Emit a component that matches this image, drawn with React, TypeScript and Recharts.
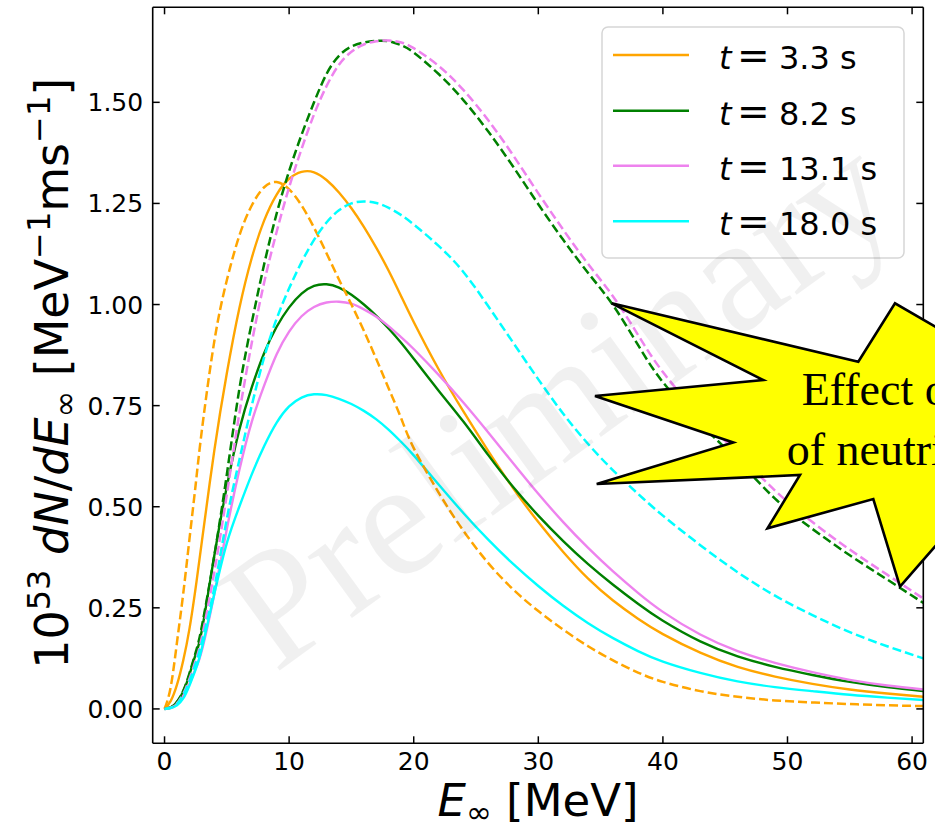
import React from 'react';
import { LineChart, Line, XAxis, YAxis, Legend } from 'recharts';

// Energy grid (MeV)
const energies = [0, 0.5, 1, 1.5, 2, 2.5, 3, 4, 5, 6, 7, 8, 9, 10, 11, 12, 13, 14, 15, 16, 17, 18, 19, 20, 22, 24, 26, 28, 30, 32, 34, 36, 38, 40, 43, 46, 49, 52, 55, 58, 60.9];

// t = 3.3 s
const t33Solid = [0, 0.02, 0.06, 0.12, 0.198, 0.3, 0.415, 0.64, 0.83, 0.99, 1.115, 1.208, 1.272, 1.311, 1.328, 1.327, 1.308, 1.277, 1.238, 1.192, 1.14, 1.083, 1.02, 0.957, 0.84, 0.735, 0.637, 0.545, 0.462, 0.388, 0.322, 0.268, 0.223, 0.185, 0.139, 0.104, 0.08, 0.062, 0.048, 0.038, 0.03];
const t33Dashed = [0, 0.055, 0.165, 0.285, 0.42, 0.555, 0.69, 0.91, 1.06, 1.17, 1.245, 1.29, 1.303, 1.285, 1.245, 1.19, 1.127, 1.062, 1.0, 0.935, 0.865, 0.792, 0.718, 0.645, 0.535, 0.44, 0.36, 0.295, 0.242, 0.196, 0.155, 0.12, 0.09, 0.067, 0.044, 0.03, 0.021, 0.016, 0.012, 0.009, 0.007];
// t = 8.2 s
const t82Solid = [0, 0.004, 0.017, 0.043, 0.085, 0.135, 0.195, 0.38, 0.55, 0.69, 0.795, 0.88, 0.945, 0.993, 1.027, 1.046, 1.05, 1.042, 1.024, 1.0, 0.972, 0.94, 0.905, 0.866, 0.787, 0.71, 0.627, 0.548, 0.478, 0.415, 0.358, 0.307, 0.26, 0.218, 0.167, 0.13, 0.104, 0.084, 0.067, 0.054, 0.044];
const t82Dashed = [0, 0.004, 0.018, 0.045, 0.088, 0.14, 0.205, 0.38, 0.58, 0.79, 0.955, 1.1, 1.225, 1.33, 1.42, 1.5, 1.57, 1.615, 1.638, 1.648, 1.652, 1.651, 1.641, 1.623, 1.57, 1.505, 1.427, 1.34, 1.248, 1.16, 1.078, 0.998, 0.9, 0.808, 0.705, 0.615, 0.52, 0.445, 0.38, 0.32, 0.262];
// t = 13.1 s
const t131Solid = [0, 0.003, 0.012, 0.032, 0.062, 0.1, 0.145, 0.285, 0.445, 0.59, 0.71, 0.8, 0.877, 0.933, 0.971, 0.994, 1.005, 1.007, 1.002, 0.988, 0.97, 0.946, 0.919, 0.89, 0.826, 0.757, 0.683, 0.607, 0.532, 0.462, 0.398, 0.34, 0.287, 0.24, 0.184, 0.143, 0.114, 0.091, 0.072, 0.058, 0.048];
const t131Dashed = [0, 0.003, 0.014, 0.037, 0.074, 0.12, 0.178, 0.34, 0.53, 0.73, 0.905, 1.055, 1.18, 1.29, 1.385, 1.47, 1.54, 1.593, 1.625, 1.643, 1.651, 1.653, 1.648, 1.634, 1.59, 1.53, 1.455, 1.368, 1.275, 1.185, 1.1, 1.02, 0.925, 0.833, 0.725, 0.632, 0.54, 0.462, 0.394, 0.332, 0.273];
// t = 18.0 s
const t180Solid = [0, 0.002, 0.009, 0.026, 0.058, 0.098, 0.15, 0.285, 0.41, 0.5, 0.58, 0.65, 0.708, 0.748, 0.77, 0.778, 0.776, 0.767, 0.754, 0.737, 0.716, 0.69, 0.66, 0.627, 0.555, 0.484, 0.418, 0.358, 0.304, 0.255, 0.212, 0.175, 0.143, 0.117, 0.089, 0.068, 0.054, 0.044, 0.035, 0.028, 0.022];
const t180Dashed = [0, 0.003, 0.012, 0.034, 0.068, 0.112, 0.165, 0.3, 0.47, 0.615, 0.75, 0.87, 0.965, 1.04, 1.105, 1.16, 1.203, 1.233, 1.25, 1.255, 1.251, 1.239, 1.221, 1.198, 1.145, 1.08, 0.995, 0.905, 0.815, 0.73, 0.655, 0.59, 0.532, 0.478, 0.405, 0.338, 0.28, 0.232, 0.19, 0.155, 0.125];

const timeLabels = ['3.3', '8.2', '13.1', '18.0'];
const colors = ['#FFA500', '#008000', '#EE82EE', '#00FFFF'];
const xTicks = [0, 10, 20, 30, 40, 50, 60];
const yTicks = [0, 0.25, 0.5, 0.75, 1.0, 1.25, 1.5];

const solidSeries = [t33Solid, t82Solid, t131Solid, t180Solid];
const dashedSeries = [t33Dashed, t82Dashed, t131Dashed, t180Dashed];

const data = energies.map((E, i) => {
  const row: Record<string, number> = { E };
  solidSeries.forEach((s, k) => { row['s' + k] = s[i]; });
  dashedSeries.forEach((s, k) => { row['d' + k] = s[i]; });
  return row;
});

const FONT = '"DejaVu Sans", sans-serif';
const SERIF = '"Liberation Serif", "DejaVu Serif", serif';
const TICK_LEN = 7;

const XTickBottom = (props: any) => {
  const { x, y, payload } = props;
  return (
    <g>
      <line x1={x} x2={x} y1={y} y2={y - TICK_LEN} stroke="#000" strokeWidth={1.5} />
      <text x={x} y={y + 27} textAnchor="middle" fontSize={25} fontFamily={FONT} fill="#000">{payload.value}</text>
    </g>
  );
};
const XTickTop = (props: any) => {
  const { x, y } = props;
  return <line x1={x} x2={x} y1={y} y2={y + TICK_LEN} stroke="#000" strokeWidth={1.5} />;
};
const YTickLeft = (props: any) => {
  const { x, y, payload } = props;
  return (
    <g>
      <line x1={x} x2={x + TICK_LEN} y1={y} y2={y} stroke="#000" strokeWidth={1.5} />
      <text x={x - 9.5} y={y + 9} textAnchor="end" fontSize={25} fontFamily={FONT} fill="#000">{Number(payload.value).toFixed(2)}</text>
    </g>
  );
};
const YTickRight = (props: any) => {
  const { x, y } = props;
  return <line x1={x - TICK_LEN} x2={x} y1={y} y2={y} stroke="#000" strokeWidth={1.5} />;
};

const YLabel = (props: any) => {
  const vb = props.viewBox || { x: 63, y: 7, width: 90, height: 736 };
  const cx = vb.x - 16;
  const cy = vb.y + vb.height / 2 - 2;
  return (
    <text x={cx} y={cy + 21} transform={`rotate(-90, ${cx}, ${cy})`} textAnchor="middle" fontSize={46} fontFamily={FONT} fill="#000">
      <tspan>10</tspan>
      <tspan fontSize={32} dy={-18}>53</tspan>
      <tspan dy={18}>{' '}</tspan>
      <tspan fontStyle="italic">dN</tspan>
      <tspan>/</tspan>
      <tspan fontStyle="italic">dE</tspan>
      <tspan fontSize={32} dy={8}>∞</tspan>
      <tspan dy={-8}>{'  [MeV'}</tspan>
      <tspan fontSize={32} dy={-18}>−1</tspan>
      <tspan dy={18}>ms</tspan>
      <tspan fontSize={32} dy={-18}>−1</tspan>
      <tspan dy={18}>]</tspan>
    </text>
  );
};

const XLabel = (props: any) => {
  const vb = props.viewBox || { x: 153, y: 743, width: 770, height: 60 };
  const cx = vb.x + vb.width / 2;
  const by = vb.y + 73;
  return (
    <text x={cx} y={by} textAnchor="middle" fontSize={45} fontFamily={FONT} fill="#000">
      <tspan fontStyle="italic">E</tspan>
      <tspan fontSize={31} dy={7}>∞</tspan>
      <tspan dy={-7}>{' [MeV]'}</tspan>
    </text>
  );
};

const LegendBox = () => {
  const rowY = [29, 84.7, 139.7, 195.3];
  return (
    <svg width={304} height={233} style={{ display: 'block', overflow: 'visible' }}>
      <rect x={1} y={1} width={302} height={231} rx={6} ry={6} fill="#ffffff" fillOpacity={0.8} stroke="#d6d6d6" strokeWidth={1.5} />
      {timeLabels.map((t, i) => (
        <g key={t}>
          <line x1={12} x2={88} y1={rowY[i]} y2={rowY[i]} stroke={colors[i]} strokeWidth={2.4} />
          <text y={rowY[i] + 14} fontSize={32} fontFamily={FONT} fill="#000">
            <tspan x={118} fontStyle="italic">t</tspan>
            <tspan x={136} fontSize={39}>=</tspan>
            <tspan x={178} fontSize={32}>{t + ' s'}</tspan>
          </text>
        </g>
      ))}
    </svg>
  );
};

const starPoints = [
  [611.7, 303.3], [858.3, 361.7], [895, 303.3], [965, 344], [965, 512], [900, 586.7],
  [873.3, 499], [767.5, 528.3], [800, 475], [596.7, 484], [733.3, 442.5], [595, 396], [763.3, 380],
].map((p) => p.join(',')).join(' ');

export default function App() {
  return (
    <div style={{ position: 'absolute', left: 0, top: 0, width: 935, height: 831, background: '#fff', overflow: 'hidden' }}>
      <LineChart width={935} height={831} data={data} margin={{ top: 6.3, right: 10.7, bottom: 27.7, left: 62.7 }}>
        <XAxis
          dataKey="E" type="number" domain={[-0.95, 60.9]} ticks={xTicks} interval={0} allowDataOverflow
          height={60} tickSize={0} tickMargin={0} tick={<XTickBottom />}
          axisLine={{ stroke: '#000', strokeWidth: 1.6 }} tickLine={false}
          label={<XLabel />}
        />
        <XAxis
          xAxisId="top" orientation="top" dataKey="E" type="number" domain={[-0.95, 60.9]} ticks={xTicks} interval={0} allowDataOverflow
          height={1} tickSize={0} tickMargin={0} tick={<XTickTop />}
          axisLine={{ stroke: '#000', strokeWidth: 1.6 }} tickLine={false}
        />
        <YAxis
          type="number" domain={[-0.085, 1.735]} ticks={yTicks} interval={0} allowDataOverflow
          width={90} tickSize={0} tickMargin={0} tick={<YTickLeft />}
          axisLine={{ stroke: '#000', strokeWidth: 1.6 }} tickLine={false}
          label={<YLabel />}
        />
        <YAxis
          yAxisId="right" orientation="right" type="number" domain={[-0.085, 1.735]} ticks={yTicks} interval={0} allowDataOverflow
          width={1} tickSize={0} tickMargin={0} tick={<YTickRight />}
          axisLine={{ stroke: '#000', strokeWidth: 1.6 }} tickLine={false}
        />
        <Line xAxisId="top" yAxisId="right" type="natural" dataKey="s0" stroke="none" strokeWidth={0}
          dot={false} activeDot={false} isAnimationActive={false} legendType="none" />
        {timeLabels.map((t, k) => (
          <Line key={'s' + k} type="natural" dataKey={'s' + k} stroke={colors[k]} strokeWidth={2.4}
            dot={false} activeDot={false} isAnimationActive={false} legendType="none" />
        ))}
        {timeLabels.map((t, k) => (
          <Line key={'d' + k} type="natural" dataKey={'d' + k} stroke={colors[k]} strokeWidth={2.5}
            strokeDasharray="9 4" dot={false} activeDot={false} isAnimationActive={false} legendType="none" />
        ))}
        <Legend layout="vertical" align="center" verticalAlign="middle" content={<LegendBox />}
          wrapperStyle={{ position: 'absolute', left: 601, top: 26, width: 304, height: 233 }} />
      </LineChart>
      <svg width={935} height={831} style={{ position: 'absolute', left: 0, top: 0, pointerEvents: 'none' }}>
        <text x={590} y={445} transform="rotate(-36, 590, 445)" textAnchor="middle" fontSize={165} fontFamily={SERIF} fill="#000" fillOpacity={0.06}>Preliminary</text>
        <polygon points={starPoints} fill="#FFFF00" stroke="#000" strokeWidth={2.6} strokeLinejoin="miter" />
        <text x={801.7} y={405} fontSize={46} fontFamily={SERIF} fill="#000">Effect of</text>
        <text x={786.7} y={465} fontSize={46} fontFamily={SERIF} fill="#000">of neutrinos</text>
      </svg>
    </div>
  );
}
